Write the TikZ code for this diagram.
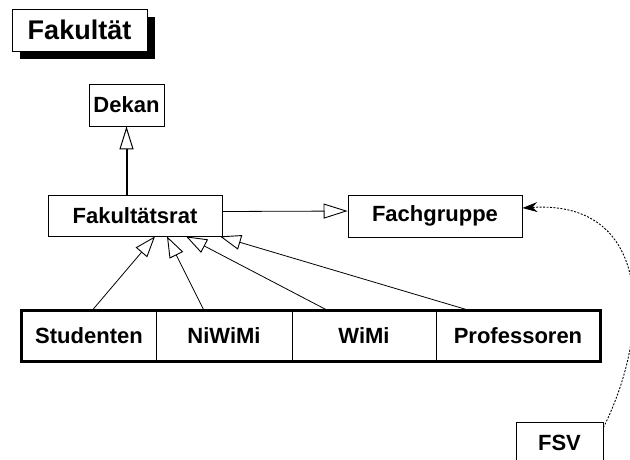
\documentclass[tikz,border=0pt]{standalone}
\usepackage{fontspec}
\setmainfont{Liberation Sans}
\usetikzlibrary{arrows.meta,positioning,shadows}

\begin{document}
\begin{tikzpicture}[x=1pt,y=-1pt,
  kasten/.style={draw,line width=0.8pt,fill=white,inner sep=0pt,font=\fontsize{22}{26}\selectfont\bfseries},
  titel/.style={kasten,font=\fontsize{27}{31}\selectfont\bfseries,drop shadow={shadow xshift=8pt,shadow yshift=-8pt,fill=black,opacity=1}},
  zelle/.style={kasten,minimum height=50pt},
  erbt/.style={line width=0.8pt,-{Triangle[open,length=21pt,width=15pt,line width=0.9pt]}},
  verweis/.style={line width=0.9pt,dash pattern=on 2pt off 1.5pt,-{Stealth[length=15pt,width=10pt]}}]
\useasboundingbox (0,0) rectangle (630,459);
\node[titel,minimum width=135pt,minimum height=42pt] (titel) at (79.5,30) {Fakultät};
\node[kasten,minimum width=75pt,minimum height=42pt] (dekan) at (126.5,105) {Dekan};
\node[kasten,minimum width=174pt,minimum height=41pt] (rat) at (135,215.5) {Fakultätsrat};
\node[kasten,minimum width=174pt,minimum height=42pt] (fach) at (435,216) {Fachgruppe};
\node[kasten,minimum width=87pt,minimum height=42pt] (fsv) at (559.5,443) {FSV};
% Gruppen in einer Zeile
\node[zelle,minimum width=134pt] (studenten) at (89,336) {Studenten};
\node[zelle,minimum width=136pt] (niwimi) at (224,336) {NiWiMi};
\node[zelle,minimum width=144pt] (wimi) at (364,336) {WiMi};
\node[zelle,minimum width=164pt] (prof) at (518,336) {Professoren};
\draw[line width=3pt] (studenten.north west) rectangle (prof.south east);
% Beziehungen
\draw[erbt,line width=2pt,-{Triangle[open,length=23pt,width=14pt,line width=1pt]}] (dekan.south |- rat.north) -- (dekan.south);
\draw[erbt,-{Triangle[open,length=24pt,width=15pt,line width=0.9pt]}] ([yshift=4pt]rat.east) -- ([yshift=5pt]fach.west);
\draw[erbt] ([xshift=3pt]studenten.north) -- ([xshift=20pt]rat.south);
\draw[erbt] ([xshift=-20pt]niwimi.north) -- ([xshift=32pt]rat.south);
\draw[erbt] ([xshift=-36pt]wimi.north) -- ([xshift=51pt]rat.south);
\draw[erbt] ([xshift=-48pt]prof.north) -- ([xshift=85pt]rat.south);
\draw[verweis] ([yshift=-6pt]fsv.north east) .. controls (652,330) and (652,200) .. ([yshift=8pt]fach.east);
\end{tikzpicture}
\end{document}
